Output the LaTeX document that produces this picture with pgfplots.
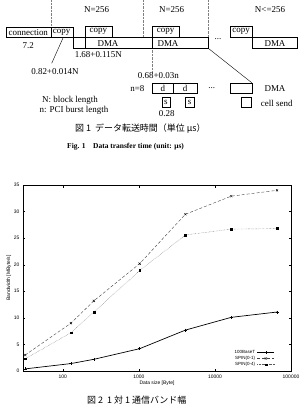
\documentclass[border=0pt]{standalone}
\usepackage{fontspec}
\setmainfont{Liberation Serif}
\setsansfont{Liberation Sans}
\newfontfamily\cjk{Noto Sans CJK JP}
\usepackage{pgfplots}
\pgfplotsset{compat=1.18}
\begin{document}
\begin{tikzpicture}[x=1bp,y=-1bp]
\useasboundingbox (0,0) rectangle (301,409);
% ---------- diagram ----------
\begin{scope}[font=\fontsize{9}{10}\selectfont, line width=0.4pt, every node/.style={inner sep=0pt}]
\draw[densely dotted, gray] (51,0) -- (51,27.3);
\draw[densely dotted, gray] (142.7,0) -- (142.7,37.3);
\draw[densely dotted, gray] (208.3,0) -- (208.3,37.3);
\draw[densely dotted, gray] (152.3,48.3) -- (152.3,73);
\node at (96.7,9.3) {N=256};
\node at (171.7,9.3) {N=256};
\node at (270,9.3) {N<=256};
\draw (6,27.3) rectangle (50.7,37.3);
\node at (28.3,32.6) {connection};
\draw (50.7,27.3) rectangle (72.7,37.3);
\node at (61.7,32.6) {copy};
\draw (72.7,37.3) rectangle (208.3,48.3);
\draw (85,26) rectangle (111.7,37.3);
\node at (98.3,31.8) {copy};
\draw (85,37.3) -- (85,48.3);
\draw (152.3,26) rectangle (179,37.3);
\node at (165.7,31.8) {copy};
\draw (152.3,37.3) -- (152.3,48.3);
\node at (108,43.3) {DMA};
\node at (168,43.3) {DMA};
\node at (218,39) {...};
\draw (230,26) rectangle (252.3,37.3);
\node at (241.2,31.8) {copy};
\draw (252.3,37.3) rectangle (296.7,48.3);
\node at (275,43.3) {DMA};
\node at (28.3,45.5) {7.2};
\node at (98.3,54.3) {1.68+0.115N};
\draw (63.3,37.3) -- (51.7,63.3);
\node at (55,71.7) {0.82+0.014N};
\node at (158.3,76) {0.68+0.03n};
\draw (208.3,48.3) -- (251.7,82.7);
\node at (137.3,88.3) {n=8};
\draw (152.3,82.7) rectangle (173.3,93.3);
\draw (173.3,82.7) rectangle (196.7,93.3);
\node at (162.8,88) {d};
\node at (185,88) {d};
\node at (211.7,88) {...};
\draw (230,82.7) rectangle (251.7,93.3);
\node at (275,88.3) {DMA};
\draw (161.7,97.3) rectangle (170,107.3);
\node at (165.8,102.3) {s};
\draw (185,97.3) rectangle (194.3,107.3);
\node at (189.7,102.3) {s};
\node at (166.7,114) {0.28};
\draw (240.7,97.3) rectangle (250.7,107.3);
\node at (276.7,103.7) {cell send};
\node at (70,100.7) {N: block length};
\node at (74,110.7) {n: PCI burst length};
\node[anchor=west] at (75,128.3) {\cjk 図 1\ \ データ転送時間（単位 μs）};
\node[anchor=west, font=\fontsize{7.5}{8}\selectfont\bfseries] at (67,147) {Fig. 1\quad Data transfer time (unit: μs)};
\node[anchor=west] at (87,400) {\cjk 図 2\ \ 1 対 1 通信バンド幅};
\end{scope}
% ---------- chart ----------
\begin{axis}[
  at={(23bp,-371bp)}, anchor=south west,
  scale only axis, width=268bp, height=186bp,
  xmode=log, log basis x=10,
  xmin=30, xmax=100000, ymin=0, ymax=35,
  ytick={0,5,...,35},
  xtick={100,1000,10000,100000},
  xticklabels={100,1000,10000,100000},
  /pgf/number format/assume math mode=true,
  tick align=inside, tick pos=both,
  major tick length=2.5bp, minor tick length=1.3bp,
  every tick/.style={black, line width=0.3pt},
  axis line style={line width=0.5pt},
  tick label style={font=\sffamily\fontsize{5}{6}\selectfont},
  label style={font=\sffamily\fontsize{5}{6}\selectfont},
  xlabel={Data size [Byte]},
  ylabel={Bandwidth [MByte/s]},
  xlabel style={yshift=4bp},
  ylabel style={yshift=-4bp},
  legend style={draw=none, fill=none, font=\sffamily\fontsize{4.5}{5}\selectfont,
    at={(0.94,0.125)}, anchor=north east, row sep=-2.5pt, inner sep=0pt},
  legend cell align=right,
  legend plot pos=right,
]
\addplot[black, line width=0.7pt, mark=+, mark size=1.5pt, mark options={solid, line width=0.4pt}]
  coordinates {(32,0.4) (128,1.4) (256,2.2) (1024,4.2) (4096,7.7) (16384,10.1) (65536,11.1)};
\addlegendentry{100BaseT}
\addplot[black!75, line width=0.4pt, densely dashed, mark=x, mark size=1.5pt, mark options={solid, black}]
  coordinates {(32,3.0) (128,9.0) (256,13.2) (1024,20.2) (4096,29.5) (16384,32.9) (65536,34.0)};
\addlegendentry{SPIN(0-1)}
\addplot[black!65, line width=0.4pt, densely dotted, mark=square*, mark size=0.9pt, mark options={solid, black}]
  coordinates {(32,2.3) (128,7.2) (256,11.1) (1024,18.9) (4096,25.6) (16384,26.7) (65536,26.8)};
\addlegendentry{SPIN(0-4)}
\end{axis}
\end{tikzpicture}
\end{document}
